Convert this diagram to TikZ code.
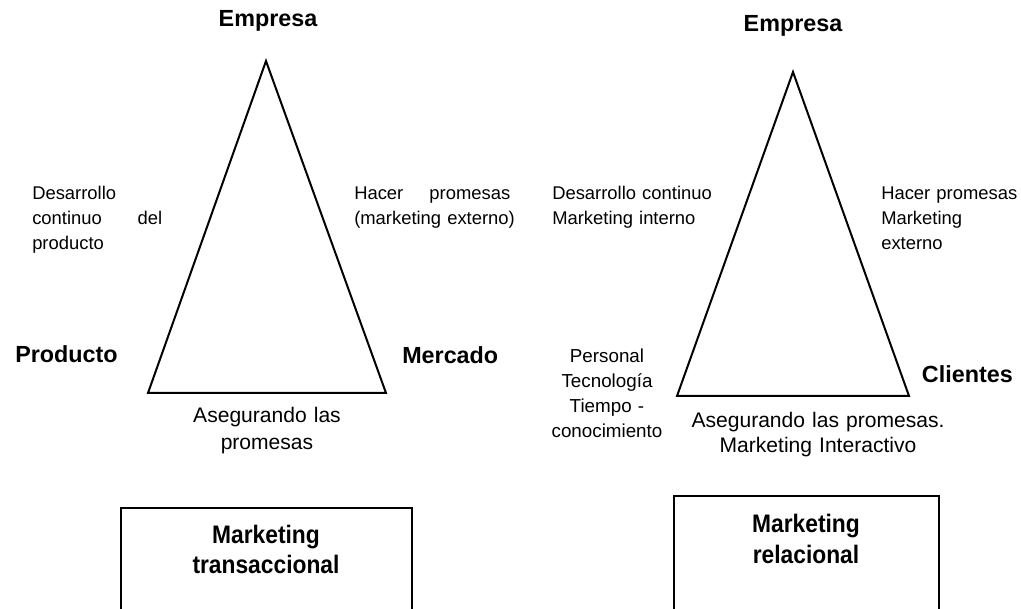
\documentclass[tikz,border=0pt]{standalone}
\usepackage{fontspec}
\setmainfont{Liberation Sans}
\newfontfamily\narrowfont[FakeStretch=0.9]{Liberation Sans}
\usepackage{tikz}

\begin{document}
\begin{tikzpicture}[x=0.75pt, y=-0.75pt,
    vertex/.style={font=\fontsize{17.5}{21}\selectfont\bfseries, inner sep=0pt},
    note/.style={font=\fontsize{13.8}{18.4}\selectfont, inner sep=0pt, align=left, anchor=base west},
    keep/.style={font=\fontsize{15.8}{19.5}\selectfont, inner sep=0pt, align=center, anchor=base},
    boxtext/.style={font=\fontsize{19}{22}\narrowfont\bfseries, inner sep=0pt, align=center, anchor=base},
    edge/.style={line width=1.5pt, line join=miter}]
    \useasboundingbox (0,0) rectangle (1021,609);

    % Transaccional triangle
    \coordinate (tA) at (266,61);
    \coordinate (tB) at (148,393);
    \coordinate (tC) at (386,393);
    \draw[edge] (tA) -- (tB) -- (tC) -- cycle;
    \node[vertex, anchor=base] (empL) at (268,27) {Empresa};
    \node[vertex, anchor=base west] (prod) at (15,363) {Producto};
    \node[vertex, anchor=base west] (merc) at (402,364) {Mercado};
    \node[note, text width=97.5pt] (desL) at (32,200)
        {Desarrollo\\ \makebox[97.5pt][l]{continuo\hfill del}\\ producto};
    \node[note, text width=120pt] (hacL) at (354,200)
        {\makebox[117pt][l]{Hacer\hfill promesas}\\ \mbox{(marketing externo)}};
    \node[keep, text width=130pt, font=\fontsize{15.8}{20.2}\selectfont] (asegL) at (267,423)
        {Asegurando las\\ promesas};

    % Relacional triangle
    \coordinate (rA) at (793,72);
    \coordinate (rB) at (677,396);
    \coordinate (rC) at (909,396);
    \draw[edge] (rA) -- (rB) -- (rC) -- cycle;
    \node[vertex, anchor=base] (empR) at (793,32) {Empresa};
    \node[vertex, anchor=base east] (clie) at (1013,383) {Clientes};
    \node[note, text width=130pt] (desR) at (552,200)
        {Desarrollo continuo\\ Marketing interno};
    \node[note, text width=105pt] (hacR) at (881,200)
        {Hacer promesas\\ Marketing\\ externo};
    \node[keep, text width=100pt, font=\fontsize{14.1}{18.75}\selectfont] (pers) at (607,363)
        {Personal\\ Tecnología\\ Tiempo -\\ conocimiento};
    \node[keep, text width=200pt, font=\fontsize{15.8}{18.75}\selectfont] (asegR) at (818,427)
        {Asegurando las promesas.\\ Marketing Interactivo};

    % Boxes
    \coordinate (bT1) at (121,609);
    \coordinate (bT2) at (412,609);
    \draw[edge] (bT1) |- (266,508) -| (bT2);
    \node[boxtext, text width=200pt] (mktT) at (266,543) {Marketing\\[0.75pt] transaccional};
    \coordinate (bR1) at (674,609);
    \coordinate (bR2) at (939,609);
    \draw[edge] (bR1) |- (806,496) -| (bR2);
    \node[boxtext, text width=200pt] (mktR) at (806,532) {Marketing\\[1.5pt] relacional};
\end{tikzpicture}
\end{document}
